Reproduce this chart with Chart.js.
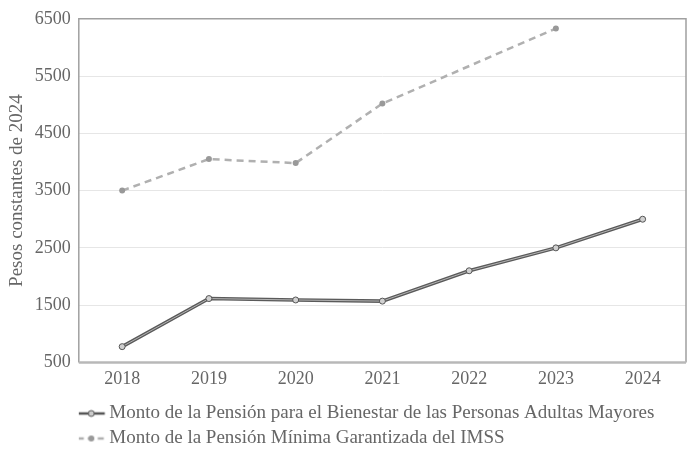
<!DOCTYPE html>
<html>
<head>
<meta charset="utf-8">
<script src="https://cdn.jsdelivr.net/npm/chart.js@4.4.1/dist/chart.umd.min.js"></script>
<style>
  html, body { margin: 0; padding: 0; background: #fff; }
  #wrap { width: 691px; height: 453px; position: relative; }
</style>
</head>
<body>
<div id="wrap"><canvas id="c"></canvas></div>
<script>
const years = ['2018', '2019', '2020', '2021', '2022', '2023', '2024'];
const bienestar = [775, 1615, 1590, 1570, 2100, 2500, 3000];
const imss = [3500, 4050, 3980, 5020, null, 6330, null];
const yTicks = [500, 1500, 2500, 3500, 4500, 5500, 6500];
const labelBienestar = 'Monto de la Pensión para el Bienestar de las Personas Adultas Mayores';
const labelImss = 'Monto de la Pensión Mínima Garantizada del IMSS';
const yTitle = 'Pesos constantes de 2024';

const FONT = "'Liberation Serif', 'DejaVu Serif', serif";
const TXT = '#666666';

function legendImg(kind) {
  const c = document.createElement('canvas');
  c.width = 60; c.height = 10;
  const x = c.getContext('2d');
  const o = 15.5;
  if (kind === 'solid') {
    x.strokeStyle = '#555'; x.lineWidth = 2.5;
    x.beginPath(); x.moveTo(o, 5); x.lineTo(o + 27, 5); x.stroke();
    x.fillStyle = '#ccc'; x.strokeStyle = '#555'; x.lineWidth = 1;
    x.beginPath(); x.arc(o + 13.5, 5, 3, 0, Math.PI * 2); x.fill(); x.stroke();
  } else {
    x.strokeStyle = '#b0b0b0'; x.lineWidth = 2.5;
    x.setLineDash([6, 4]);
    x.beginPath(); x.moveTo(o, 5); x.lineTo(o + 27, 5); x.stroke();
    x.fillStyle = '#999';
    x.beginPath(); x.arc(o + 13.5, 5, 3, 0, Math.PI * 2); x.fill();
  }
  return c;
}
const imgSolid = legendImg('solid');
const imgDash = legendImg('dash');

const boxPlugin = {
  id: 'box',
  afterDraw(chart) {
    const a = chart.chartArea, ctx = chart.ctx;
    ctx.save();
    ctx.strokeStyle = '#a0a0a0';
    ctx.lineWidth = 1.5;
    ctx.beginPath();
    ctx.moveTo(a.left, a.bottom);
    ctx.lineTo(a.left, a.top);
    ctx.lineTo(a.right, a.top);
    ctx.lineTo(a.right, a.bottom);
    ctx.stroke();
    ctx.strokeStyle = '#b8b8b8';
    ctx.lineWidth = 2.5;
    ctx.beginPath();
    ctx.moveTo(a.left, a.bottom);
    ctx.lineTo(a.right, a.bottom);
    ctx.stroke();
    ctx.restore();
  }
};

new Chart(document.getElementById('c'), {
  type: 'line',
  data: {
    labels: years,
    datasets: [
      {
        label: '_outer',
        data: bienestar,
        borderColor: '#5a5a5a',
        borderWidth: 3.5,
        pointRadius: 0,
        order: 3
      },
      {
        label: labelBienestar,
        data: bienestar,
        borderColor: '#b4b4b4',
        borderWidth: 1,
        pointRadius: 3,
        pointBackgroundColor: '#d0d0d0',
        pointBorderColor: '#555',
        pointBorderWidth: 1,
        order: 2
      },
      {
        label: labelImss,
        data: imss,
        borderColor: '#b0b0b0',
        borderWidth: 2.5,
        borderDash: [7, 5],
        pointRadius: 3,
        pointBackgroundColor: '#999',
        pointBorderColor: '#999',
        pointBorderWidth: 0,
        spanGaps: true,
        order: 1
      }
    ]
  },
  options: {
    responsive: true,
    maintainAspectRatio: false,
    animation: false,
    layout: { padding: { top: 5, right: 5, left: 6, bottom: -5 } },
    plugins: {
      tooltip: { enabled: false },
      legend: {
        position: 'bottom',
        align: 'start',
        fullSize: false,
        labels: {
          font: { family: FONT, size: 19 },
          color: TXT,
          usePointStyle: true,
          pointStyleWidth: 15,
          padding: 6,
          filter: (item) => item.text !== '_outer',
          generateLabels: (chart) => {
            return chart.data.datasets.map((ds, i) => ({
              text: ds.label,
              datasetIndex: i,
              pointStyle: i === 2 ? imgDash : imgSolid,
              fontColor: TXT,
              hidden: false,
              lineWidth: 0,
              strokeStyle: 'transparent',
              fillStyle: 'transparent'
            }));
          }
        }
      }
    },
    scales: {
      x: {
        offset: true,
        grid: { display: false, drawTicks: false },
        border: { display: false },
        ticks: { font: { family: FONT, size: 18 }, color: TXT, padding: 6 },
        afterFit: (axis) => { axis.height += 2; }
      },
      y: {
        min: 500,
        max: 6500,
        afterBuildTicks: (axis) => { axis.ticks = yTicks.map(v => ({ value: v })); },
        grid: { color: '#e6e6e6', lineWidth: 1, drawTicks: false },
        border: { display: false },
        ticks: {
          font: { family: FONT, size: 18 }, color: TXT, padding: 8,
          callback: (v) => String(v)
        },
        afterFit: (axis) => { axis.width -= 8; },
        title: {
          display: true,
          text: yTitle,
          font: { family: FONT, size: 19 },
          color: TXT,
          padding: { top: 0, bottom: 6 }
        }
      }
    }
  },
  plugins: [boxPlugin]
});
</script>
</body>
</html>
